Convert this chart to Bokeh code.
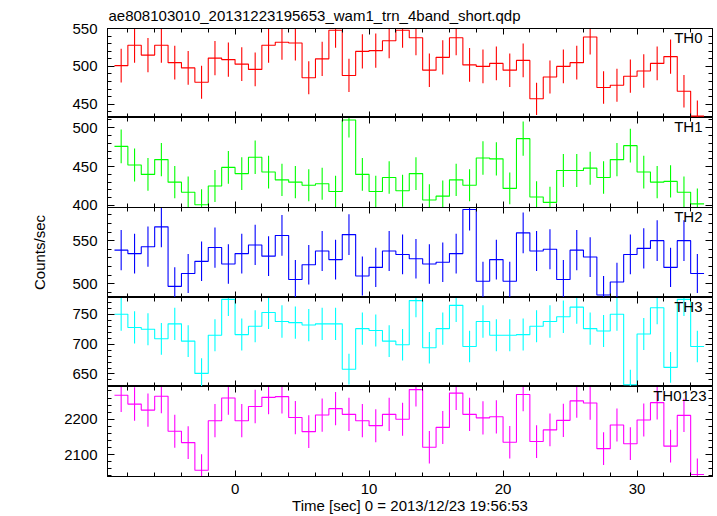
import numpy as np
from bokeh.plotting import figure
from bokeh.models import LinearAxis, SingleIntervalTicker, Range1d, Label, CustomLabelingPolicy
from bokeh.layouts import column
from bokeh.embed import file_html
from bokeh.resources import INLINE

# ---- data -------------------------------------------------------------
time_edges = np.arange(-9.0, 36.0, 1.0)          # 1-s bins, -9 .. 35
time_centers = time_edges[:-1] + 0.5

title_text = "ae808103010_20131223195653_wam1_trn_4band_short.qdp"
xlabel_text = "Time [sec] 0 = 2013/12/23 19:56:53"
ylabel_text = "Counts/sec"
band_names = ["TH0", "TH1", "TH2", "TH3", "TH0123"]

th0_rate = [501, 528, 515, 528, 505, 498, 479, 511, 509, 503, 496, 528, 532, 531, 485,
            510, 548, 488, 520, 521, 534, 548, 538, 495, 512, 538, 502, 500, 504, 495,
            508, 457, 486, 500, 505, 539, 472, 475, 487, 494, 504, 513, 467, 434]
th0_err = [22.4, 23.0, 22.7, 23.0, 22.5, 22.3, 21.9, 22.6, 22.6, 22.4, 22.3, 23.0, 23.1, 23.0, 22.0,
           22.6, 23.4, 22.1, 22.8, 22.8, 23.1, 23.4, 23.2, 22.2, 22.6, 23.2, 22.4, 22.4, 22.4, 22.2,
           22.5, 21.4, 22.0, 22.4, 22.5, 23.2, 21.7, 21.8, 22.1, 22.2, 22.4, 22.6, 21.6, 20.8]

th1_rate = [476, 452, 440, 459, 430, 417, 401, 425, 449, 441, 462, 443, 433, 430, 426,
            428, 418, 510, 440, 418, 436, 419, 441, 407, 412, 433, 426, 461, 460, 422,
            486, 411, 404, 445, 445, 448, 436, 459, 477, 443, 430, 431, 417, 402]
th1_err = [21.8, 21.3, 21.0, 21.4, 20.7, 20.4, 20.0, 20.6, 21.2, 21.0, 21.5, 21.0, 20.8, 20.7, 20.6,
           20.7, 20.4, 22.6, 21.0, 20.4, 20.9, 20.5, 21.0, 20.2, 20.3, 20.8, 20.6, 21.5, 21.4, 20.5,
           22.0, 20.3, 20.1, 21.1, 21.1, 21.2, 20.9, 21.4, 21.8, 21.0, 20.7, 20.8, 20.4, 20.0]

th2_rate = [539, 535, 543, 566, 497, 512, 526, 542, 523, 535, 545, 532, 556, 505, 522,
            538, 528, 557, 509, 519, 538, 534, 529, 523, 525, 535, 586, 503, 528, 503,
            559, 538, 540, 505, 539, 531, 487, 502, 534, 541, 550, 519, 550, 512]
th2_err = [23.2, 23.1, 23.3, 23.8, 22.3, 22.6, 22.9, 23.3, 22.9, 23.1, 23.3, 23.1, 23.6, 22.5, 22.8,
           23.2, 23.0, 23.6, 22.6, 22.8, 23.2, 23.1, 23.0, 22.9, 22.9, 23.1, 24.2, 22.4, 23.0, 22.4,
           23.6, 23.2, 23.2, 22.5, 23.2, 23.0, 22.1, 22.4, 23.1, 23.3, 23.5, 22.8, 23.5, 22.6]

th3_rate = [750, 728, 725, 709, 734, 705, 651, 715, 775, 716, 730, 753, 738, 736, 732,
            734, 734, 658, 726, 723, 705, 699, 773, 694, 726, 765, 696, 738, 715, 715,
            716, 730, 738, 746, 762, 726, 722, 750, 632, 717, 761, 661, 775, 696]
th3_err = [27.4, 27.0, 26.9, 26.6, 27.1, 26.6, 25.5, 26.7, 27.8, 26.8, 27.0, 27.4, 27.2, 27.1, 27.1,
           27.1, 27.1, 25.7, 26.9, 26.9, 26.6, 26.4, 27.8, 26.3, 26.9, 27.7, 26.4, 27.2, 26.7, 26.7,
           26.8, 27.0, 27.2, 27.3, 27.6, 26.9, 26.9, 27.4, 25.1, 26.8, 27.6, 25.7, 27.8, 26.4]

th0123_rate = [2268, 2243, 2226, 2265, 2166, 2134, 2056, 2196, 2260, 2196, 2236, 2262, 2264, 2205, 2165,
               2212, 2230, 2214, 2196, 2182, 2214, 2200, 2284, 2121, 2177, 2274, 2214, 2204, 2207, 2135,
               2270, 2137, 2170, 2197, 2252, 2246, 2117, 2184, 2131, 2198, 2247, 2124, 2211, 2044]
th0123_err = [47.6, 47.4, 47.2, 47.6, 46.5, 46.2, 45.3, 46.9, 47.5, 46.9, 47.3, 47.6, 47.6, 47.0, 46.5,
              47.0, 47.2, 47.1, 46.9, 46.7, 47.1, 46.9, 47.8, 46.1, 46.7, 47.7, 47.1, 46.9, 47.0, 46.2,
              47.6, 46.2, 46.6, 46.9, 47.5, 47.4, 46.0, 46.7, 46.2, 46.9, 47.4, 46.1, 47.0, 45.2]

rates = [th0_rate, th1_rate, th2_rate, th3_rate, th0123_rate]
errors = [th0_err, th1_err, th2_err, th3_err, th0123_err]
y_ranges = [(432.2, 550.3), (397.4, 513.2), (484.1, 588.4), (629.0, 778.2), (2038.2, 2292.7)]
y_tick_steps = [50, 50, 50, 50, 100]
x_range = (-9.52, 35.63)

# ---- style ------------------------------------------------------------
FONT = "Liberation Sans"
FS = "15px"
colors = ["#ff0000", "#00ff00", "#0000ff", "#00ffff", "#ff00ff"]
frame_heights = [89, 90, 90, 89, 90]
name_offsets = [-10, -10, -10, -10, -6]
# extra bottom border (for an overhanging tick label) and matching overlap of the next panel
extra_bottom = [0, 8, 0, 0, 0]

NO_LABELS_JS = """
for (const i of indices) { indices.unset(i) }
return indices
"""


def style_axis(ax, show_labels, tick_in, minor_in, standoff=10):
    ax.axis_line_color = "black"
    ax.major_tick_line_color = "black"
    ax.minor_tick_line_color = "black"
    ax.major_tick_in = tick_in
    ax.major_tick_out = 0
    ax.minor_tick_in = minor_in
    ax.minor_tick_out = 0
    if show_labels:
        ax.major_label_text_font = FONT
        ax.major_label_text_font_size = FS
        ax.major_label_text_color = "black"
        ax.major_label_standoff = standoff
    else:
        ax.major_label_policy = CustomLabelingPolicy(code=NO_LABELS_JS)
        ax.major_label_text_font_size = "0px"
        ax.major_label_standoff = 0


figs = []
n = len(rates)
for i in range(n):
    first = i == 0
    last = i == n - 1
    overlap = extra_bottom[i - 1] if i > 0 else 0
    p = figure(frame_width=605, frame_height=frame_heights[i],
               x_range=Range1d(*x_range), y_range=Range1d(*y_ranges[i]),
               output_backend="svg", toolbar_location=None,
               min_border_left=107, min_border_right=5,
               min_border_top=28 if first else 0,
               min_border_bottom=40 if last else extra_bottom[i])
    if overlap:
        p.margin = (-overlap, 0, 0, 0)
        p.border_fill_alpha = 0
    else:
        p.border_fill_color = "white"
    p.grid.visible = False
    p.outline_line_color = "black"
    p.outline_line_width = 1
    p.background_fill_color = "white"

    bottom_ax = p.below[0]
    left_ax = p.left[0]
    bottom_ax.ticker = SingleIntervalTicker(interval=10, num_minor_ticks=5)
    left_ax.ticker = SingleIntervalTicker(interval=y_tick_steps[i], num_minor_ticks=5)
    style_axis(bottom_ax, last, 6, 4, standoff=7)
    style_axis(left_ax, True, 7, 4, standoff=10)

    top = LinearAxis(ticker=SingleIntervalTicker(interval=10, num_minor_ticks=5))
    style_axis(top, False, 6, 4)
    p.add_layout(top, "above")
    right = LinearAxis(ticker=SingleIntervalTicker(interval=y_tick_steps[i], num_minor_ticks=5))
    style_axis(right, False, 7, 4)
    p.add_layout(right, "right")

    vals = list(rates[i])
    err = np.array(errors[i])
    v = np.array(vals, dtype=float)
    p.step(x=time_edges, y=vals + [vals[-1]], mode="after",
           line_color=colors[i], line_width=1.1)
    p.segment(x0=time_centers, y0=v - err, x1=time_centers, y1=v + err,
              line_color=colors[i], line_width=1.1)

    p.add_layout(Label(x=x_range[1], y=y_ranges[i][1], x_offset=name_offsets[i], y_offset=-9,
                       text=band_names[i], text_align="right", text_baseline="middle",
                       text_font=FONT, text_font_size=FS, text_color="black"))

    if first:
        p.title.text = title_text
        p.title.align = "left"
        p.title.offset = 1
        p.title.standoff = 9
        p.title.text_font = FONT
        p.title.text_font_size = FS
        p.title.text_font_style = "normal"
        p.title.text_color = "black"
    if i == 2:
        left_ax.axis_label = ylabel_text
        left_ax.axis_label_standoff = 21
        left_ax.axis_label_text_font = FONT
        left_ax.axis_label_text_font_size = FS
        left_ax.axis_label_text_font_style = "normal"
        left_ax.axis_label_text_color = "black"
    if last:
        bottom_ax.axis_label = xlabel_text
        bottom_ax.axis_label_standoff = 0
        bottom_ax.axis_label_text_font = FONT
        bottom_ax.axis_label_text_font_size = FS
        bottom_ax.axis_label_text_font_style = "normal"
        bottom_ax.axis_label_text_color = "black"
    figs.append(p)

layout = column(*figs, spacing=0)
open("out.html", "w").write(file_html(layout, INLINE))
